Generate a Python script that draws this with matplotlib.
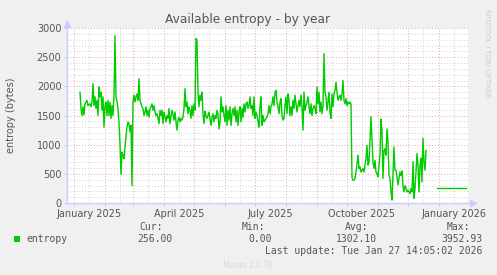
import matplotlib
matplotlib.use("Agg")
import matplotlib.pyplot as plt
import matplotlib.dates as mdates
import matplotlib.ticker as mticker
import numpy as np
import pandas as pd

# Munin-ish colours
BG = "#f0f0f0"
TEXT = "#555555"
LINE = "#00cc00"
AXIS = "#ccccff"
MAJOR_GRID = "#e8a3a3"
MINOR_GRID = "#d2d2d2"

# daily values, starting 2025-01-07
first_day = "2025-01-07"
entropy = [
    1900, 1620, 1500, 1650, 1510, 1700, 1730, 1760, 1670, 1690,
    1700, 1650, 1730, 2050, 1670, 1820, 1620, 1760, 1500, 1990,
    1820, 1900, 1590, 1820, 1300, 1670, 1730, 1500, 1760, 1500,
    1730, 1450, 1670, 1500, 1850, 2870, 1820, 1730, 1620, 1390,
    990, 490, 870, 820, 760, 960, 1150, 1300, 1390, 1360,
    1220, 1330, 300, 1730, 1850, 1730, 1820, 1870, 1760, 2130,
    1760, 1700, 1650, 1620, 1500, 1560, 1650, 1500, 1590, 1470,
    1620, 1650, 1700, 1590, 1670, 1560, 1500, 1530, 1450, 1360,
    1590, 1500, 1590, 1360, 1560, 1470, 1390, 1500, 1450, 1620,
    1360, 1470, 1590, 1530, 1420, 1560, 1390, 1250, 1420, 1470,
    1390, 1450, 1420, 1470, 1620, 1960, 1650, 1730, 1530, 1650,
    1590, 1450, 1670, 1500, 1700, 1590, 2820, 2790, 1900, 1650,
    1850, 1760, 1900, 1530, 1360, 1570, 1500, 1450, 1500, 1560,
    1450, 1330, 1470, 1530, 1390, 1500, 1450, 1590, 1530, 1270,
    1390, 1820, 1560, 1650, 1500, 1390, 1670, 1330, 1590, 1420,
    1650, 1330, 1530, 1620, 1500, 1650, 1390, 1590, 1330, 1560,
    1650, 1390, 1620, 1470, 1700, 1560, 1700, 1730, 1620, 1670,
    1820, 1620, 1670, 1500, 1820, 1450, 1560, 1500, 1390, 1300,
    1650, 1820, 1330, 1500, 1390, 1420, 1450, 1470, 1530, 1670,
    1530, 1650, 1700, 1820, 1670, 1900, 1930, 1730, 1650, 1530,
    1730, 1790, 1500, 1420, 1450, 1670, 1820, 1530, 1870, 1760,
    1500, 1650, 1500, 1760, 1620, 1850, 1700, 1560, 1670, 1760,
    1650, 1850, 1650, 1250, 1900, 1590, 1670, 1730, 1820, 1650,
    1530, 1700, 1500, 1620, 1670, 1620, 1530, 1990, 1700, 1900,
    1560, 1730, 1530, 1650, 2560, 1900, 1820, 1590, 1730, 1900,
    1560, 1450, 1870, 1650, 1870, 1930, 2070, 1900, 1760, 1820,
    1850, 1760, 1870, 2100, 1760, 1700, 1790, 1670, 1730, 1700,
    1730, 1700, 430, 390, 390, 420, 530, 670, 820, 590,
    620, 530, 560, 590, 530, 650, 760, 990, 650, 700,
    1070, 1480, 1100, 700, 590, 730, 530, 500, 450, 650,
    820, 1440, 1220, 420, 900, 930, 820, 1270, 1050, 470,
    420, 190, 50, 530, 960, 560, 560, 450, 310, 420,
    530, 470, 550, 280, 190, 300, 250, 190, 220, 190,
    160, 250, 190, 710, 80, 250, 530, 850, 650, 190,
    640, 770, 360, 1110, 700, 560, 900,
]

# flat stretch at the end (current value)
tail_start = "2025-12-30"
tail_end = "2026-01-28"
tail_value = 256.0

x_start = "2024-12-25"
x_end = "2026-01-30"
y_ticks = [0, 500, 1000, 1500, 2000, 2500, 3000]
label_months = {1: "January", 4: "April", 7: "July", 10: "October"}

stat_names = ["Cur:", "Min:", "Avg:", "Max:"]
stat_values = ["256.00", "0.00", "1302.10", "3952.93"]
last_update = "Last update: Tue Jan 27 14:05:02 2026"

W, H = 497, 275
fig = plt.figure(figsize=(W / 100, H / 100), dpi=100, facecolor=BG)
ax = fig.add_axes([67 / W, 72 / H, 401 / W, 175 / H])
ax.set_facecolor("white")

dates = pd.date_range(first_day, periods=len(entropy), freq="D")
ax.plot(dates, entropy, color=LINE, lw=1.0, zorder=3)
tail_dates = pd.date_range(tail_start, tail_end, freq="D")
ax.plot(tail_dates, [tail_value] * len(tail_dates), color=LINE, lw=1.0, zorder=3)

ax.set_xlim(pd.Timestamp(x_start), pd.Timestamp(x_end))
ax.set_ylim(0, 3000)

# y grid: red every 500, grey every 100
ax.set_yticks(y_ticks)
ax.yaxis.set_minor_locator(mticker.MultipleLocator(100))
ax.grid(which="major", axis="y", color=MAJOR_GRID, ls=(0, (1, 2)), lw=0.7)
ax.grid(which="minor", axis="y", color=MINOR_GRID, ls=(0, (1, 2)), lw=0.7)

# x grid: red at month start, grey mid-month (labels sit there)
ax.xaxis.set_major_locator(mdates.MonthLocator(bymonthday=1))
ax.xaxis.set_major_formatter(mticker.NullFormatter())
ax.xaxis.set_minor_locator(mdates.MonthLocator(bymonthday=16))


def month_label(v, pos):
    d = mdates.num2date(v)
    if d.month in label_months:
        return f"{label_months[d.month]} {d.year}"
    return ""


ax.xaxis.set_minor_formatter(mticker.FuncFormatter(month_label))
ax.grid(which="major", axis="x", color=MAJOR_GRID, ls=(0, (1, 2)), lw=0.7)
ax.grid(which="minor", axis="x", color=MINOR_GRID, ls=(0, (1, 2)), lw=0.7)

ax.tick_params(which="both", colors=AXIS, labelcolor=TEXT, labelsize=7, length=2, width=0.8)
ax.tick_params(axis="x", which="minor", length=0, pad=4)
ax.tick_params(axis="y", which="minor", length=0)
ax.tick_params(axis="y", pad=2)

for s in ["top", "right"]:
    ax.spines[s].set_visible(False)
for s in ["left", "bottom"]:
    ax.spines[s].set_color(AXIS)
    ax.spines[s].set_linewidth(1.0)

# little arrow heads at axis ends
ax.plot([0], [1.025], marker="^", ms=4, color=AXIS, transform=ax.transAxes, clip_on=False)
ax.plot([1.012], [0], marker=">", ms=4, color=AXIS, transform=ax.transAxes, clip_on=False)

ax.set_ylabel("entropy (bytes)", fontsize=7, color=TEXT)
ax.yaxis.set_label_coords(-(67 - 16) / 401, 0.5)


def px(x, y):
    return x / W, 1 - y / H


fig.text(*px(248, 19), "Available entropy - by year", ha="center", va="center",
         fontsize=8.8, color=TEXT)
fig.text(*px(487, 53), "RRDTOOL / TOBI OETIKER", ha="center", va="center",
         rotation=-90, fontsize=5, color="#cccccc")

# legend block
fig.patches.append(plt.Rectangle(px(14, 242), 6 / W, 6 / H, transform=fig.transFigure,
                                 facecolor=LINE, edgecolor="none"))
mono = "DejaVu Sans Mono"
fig.text(*px(26, 239), "entropy", ha="left", va="center", fontsize=7, family=mono, color=TEXT)
stat_right = [173, 272, 377, 482]
head_right = [163, 265, 368, 470]
for name, val, xr, xh in zip(stat_names, stat_values, stat_right, head_right):
    fig.text(*px(xh, 227), name, ha="right", va="center", fontsize=7, family=mono, color=TEXT)
    fig.text(*px(xr, 239), val, ha="right", va="center", fontsize=7, family=mono, color=TEXT)
fig.text(*px(482, 251), last_update, ha="right", va="center", fontsize=7, family=mono, color=TEXT)
fig.text(*px(248, 265), "Munin 2.0.76", ha="center", va="center", fontsize=5.5, color="#d8d8d8")

fig.savefig("out.png", dpi=100, facecolor=BG)
